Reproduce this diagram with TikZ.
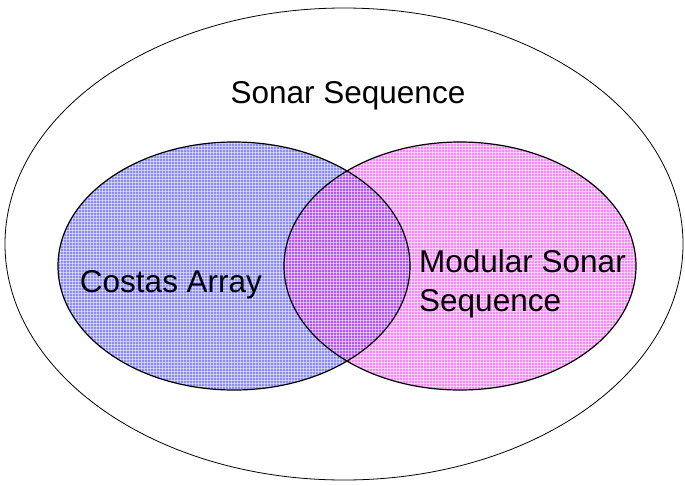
\documentclass[tikz,border=0pt]{standalone}
\usepackage{fontspec}
\setmainfont{Liberation Sans}
\begin{document}
\begin{tikzpicture}[x=1pt,y=-1pt,
  setedge/.style={draw=black,line width=1.2pt},
  lbl/.style={font=\fontsize{31.5}{39}\selectfont,inner sep=0pt},
  mesh/.style={white,line width=0.6pt,opacity=0.5}]
\useasboundingbox (0,0) rectangle (685,485);
\definecolor{costasfill}{RGB}{140,140,248}
\definecolor{modfill}{RGB}{245,140,245}
\definecolor{bothfill}{RGB}{180,90,240}
% outer set
\draw[line width=0.8pt] (344,244) ellipse [x radius=339,y radius=236];
% coloured sets and their common part
\fill[costasfill] (234,266) ellipse [x radius=176,y radius=124];
\fill[modfill] (460,266) ellipse [x radius=176,y radius=124];
\begin{scope}
\clip (234,266) ellipse [x radius=176,y radius=124];
\fill[bothfill] (460,266) ellipse [x radius=176,y radius=124];
\end{scope}
% fine woven texture
\begin{scope}
\clip (234,266) ellipse [x radius=176,y radius=124] (460,266) ellipse [x radius=176,y radius=124];
\foreach \k in {0,3,...,640}{\draw[mesh] (\k,140) -- (\k,392);}
\foreach \k in {140,143,...,392}{\draw[mesh] (56,\k) -- (640,\k);}
\end{scope}
\draw[setedge] (234,266) ellipse [x radius=176,y radius=124];
\draw[setedge] (460,266) ellipse [x radius=176,y radius=124];
% labels
\node[lbl] (sonar) at (348,96) {Sonar Sequence};
\node[lbl] (costas) at (171,285) {Costas Array};
\node[lbl,align=left,anchor=west] (modular) at (419,284) {Modular Sonar\\Sequence};
\end{tikzpicture}
\end{document}
